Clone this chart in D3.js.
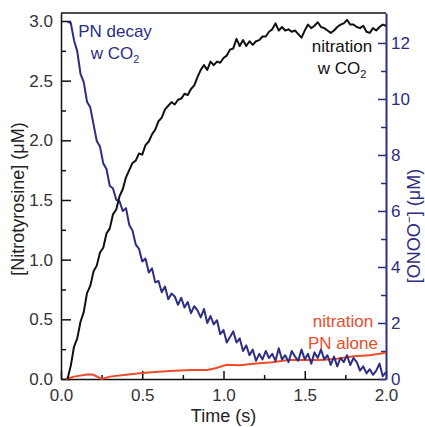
<!DOCTYPE html>
<html>
<head>
<meta charset="utf-8">
<script src="https://cdn.jsdelivr.net/npm/d3@7"></script>
<style>
  body { margin: 0; background: #fff; }
  svg { font-family: "Liberation Sans", Arial, sans-serif; }
</style>
</head>
<body>
<svg width="425" height="427"></svg>
<script>
// time points (s) shared by the two noisy traces
const times = [
  0.04, 0.06, 0.08, 0.10, 0.12, 0.14, 0.16, 0.18, 0.20, 0.22,
  0.24, 0.26, 0.28, 0.30, 0.32, 0.34, 0.36, 0.38, 0.40, 0.42,
  0.44, 0.46, 0.48, 0.50, 0.52, 0.54, 0.56, 0.58, 0.60, 0.62,
  0.64, 0.66, 0.68, 0.70, 0.72, 0.74, 0.76, 0.78, 0.80, 0.82,
  0.84, 0.86, 0.88, 0.90, 0.92, 0.94, 0.96, 0.98, 1.00, 1.02,
  1.04, 1.06, 1.08, 1.10, 1.12, 1.14, 1.16, 1.18, 1.20, 1.22,
  1.24, 1.26, 1.28, 1.30, 1.32, 1.34, 1.36, 1.38, 1.40, 1.42,
  1.44, 1.46, 1.48, 1.50, 1.52, 1.54, 1.56, 1.58, 1.60, 1.62,
  1.64, 1.66, 1.68, 1.70, 1.72, 1.74, 1.76, 1.78, 1.80, 1.82,
  1.84, 1.86, 1.88, 1.90, 1.92, 1.94, 1.96, 1.98, 2.00
];

// [Nitrotyrosine] with CO2 (uM, left axis)
const nitrationCO2 = [
  0.00, 0.11, 0.27, 0.34, 0.48, 0.56, 0.72, 0.78, 0.90, 0.95,
  1.06, 1.10, 1.22, 1.26, 1.38, 1.42, 1.53, 1.59, 1.69, 1.75,
  1.81, 1.83, 1.89, 1.88, 1.96, 1.99, 2.05, 2.09, 2.16, 2.19,
  2.26, 2.29, 2.32, 2.30, 2.34, 2.35, 2.39, 2.38, 2.43, 2.46,
  2.53, 2.59, 2.63, 2.59, 2.66, 2.63, 2.66, 2.65, 2.69, 2.71,
  2.76, 2.77, 2.85, 2.79, 2.84, 2.79, 2.83, 2.80, 2.83, 2.84,
  2.87, 2.87, 2.91, 2.93, 2.98, 2.92, 2.95, 2.92, 2.93, 2.91,
  2.92, 2.89, 2.86, 2.92, 2.97, 2.94, 2.96, 2.99, 2.95, 2.94,
  2.92, 2.90, 2.92, 2.95, 2.97, 2.98, 3.01, 2.97, 2.97, 2.95,
  2.94, 2.96, 2.91, 2.90, 2.94, 2.92, 2.95, 2.97, 2.96
];

// [ONOO-] decay with CO2 (uM, right axis)
const pnDecayCO2 = [
  12.75, 12.72, 12.10, 11.70, 10.90, 10.60, 9.90, 9.70, 9.10, 8.50,
  8.30, 7.70, 7.50, 6.90, 6.80, 6.40, 6.35, 6.00, 6.10, 5.50,
  5.30, 4.80, 4.65, 4.20, 4.30, 3.80, 3.95, 3.45, 3.50, 3.10,
  3.30, 2.85, 3.05, 2.95, 2.65, 2.90, 2.55, 2.75, 2.35, 2.60,
  2.45, 2.20, 2.50, 2.00, 2.25, 1.95, 2.10, 1.60, 1.75, 1.30,
  1.50, 1.70, 1.30, 1.45, 1.00, 1.20, 0.85, 1.05, 0.65, 0.90,
  0.70, 1.00, 0.75, 0.90, 0.65, 1.10, 0.70, 0.85, 0.60, 1.00,
  0.80, 0.65, 1.05, 0.70, 0.90, 0.55, 0.95, 0.75, 1.05, 0.70,
  0.85, 0.50, 0.80, 0.45, 0.75, 0.60, 0.85, 0.50, 0.75, 0.60,
  0.30, 0.45, 0.20, 0.35, 0.15, 0.30, 0.55, 0.10, 0.25
];

// [Nitrotyrosine] from peroxynitrite alone (uM, left axis)
const aloneTimes = [0.03, 0.08, 0.17, 0.20, 0.25, 0.30, 0.40, 0.50, 0.60, 0.70,
  0.80, 0.90, 0.95, 1.02, 1.10, 1.20, 1.30, 1.40, 1.50, 1.60, 1.70, 1.80, 1.90, 2.00];
const nitrationAlone = [0.00, 0.02, 0.04, 0.035, 0.00, 0.02, 0.035, 0.05, 0.06, 0.07,
  0.075, 0.075, 0.09, 0.12, 0.115, 0.13, 0.14, 0.16, 0.16, 0.16, 0.17, 0.19, 0.20, 0.22];

const xTicks = [0, 0.5, 1, 1.5, 2];
const xMinor = [0.25, 0.75, 1.25, 1.75];
const leftTicks = [0, 0.5, 1, 1.5, 2, 2.5, 3];
const leftMinor = [0.25, 0.75, 1.25, 1.75, 2.25, 2.75];
const rightTicks = [0, 2, 4, 6, 8, 10, 12];
const rightMinor = [1, 3, 5, 7, 9, 11];

const navy = '#2d2d84';
const red = '#ee4a2c';
const font = '"Liberation Sans", Arial, sans-serif';

const svg = d3.select('svg');
const width = +svg.attr('width');
const height = +svg.attr('height');
const margin = { top: 13, right: 39, bottom: 48, left: 61 };
const innerWidth = width - margin.left - margin.right;
const innerHeight = height - margin.top - margin.bottom;

const xScale = d3.scaleLinear().domain([0, 2]).range([0, innerWidth]);
const yLeft = d3.scaleLinear().domain([0, 3.067]).range([innerHeight, 0]);
const yRight = d3.scaleLinear().domain([0, 13.07]).range([innerHeight, 0]);

const g = svg.append('g')
  .attr('transform', `translate(${margin.left},${margin.top})`);

// top frame line
g.append('line')
  .attr('x1', 0).attr('x2', innerWidth)
  .attr('y1', 0).attr('y2', 0)
  .attr('stroke', '#111').attr('stroke-width', 1.5);

// minor ticks (no labels)
const minor = (axis, transform, color) => g.append('g')
  .attr('transform', transform)
  .call(axis)
  .call(a => a.select('.domain').remove())
  .call(a => a.selectAll('.tick text').remove())
  .call(a => a.selectAll('.tick line').attr('stroke', color).attr('stroke-width', 1.5));

minor(d3.axisBottom(xScale).tickValues(xMinor).tickSize(-4), `translate(0,${innerHeight})`, '#111');
minor(d3.axisLeft(yLeft).tickValues(leftMinor).tickSize(-5), null, '#111');
minor(d3.axisRight(yRight).tickValues(rightMinor).tickSize(-5), `translate(${innerWidth},0)`, navy);

// x axis
const xAxisG = g.append('g').attr('transform', `translate(0,${innerHeight})`)
  .call(d3.axisBottom(xScale).tickValues(xTicks).tickSize(-8).tickSizeOuter(0)
    .tickPadding(10).tickFormat(d3.format('.1f')));

// left axis
const yAxisG = g.append('g')
  .call(d3.axisLeft(yLeft).tickValues(leftTicks).tickSize(-10).tickSizeOuter(0)
    .tickPadding(8).tickFormat(d3.format('.1f')));

// right axis
const rAxisG = g.append('g').attr('transform', `translate(${innerWidth},0)`)
  .call(d3.axisRight(yRight).tickValues(rightTicks).tickSize(-8).tickSizeOuter(0)
    .tickPadding(5));

[xAxisG, yAxisG, rAxisG].forEach(a => {
  a.attr('font-family', font).attr('font-size', 17);
});
[xAxisG, yAxisG].forEach(a => {
  a.select('.domain').attr('stroke', '#111').attr('stroke-width', 1.5);
  a.selectAll('.tick line').attr('stroke', '#111').attr('stroke-width', 1.5);
  a.selectAll('.tick text').attr('fill', '#333');
});
rAxisG.select('.domain').attr('stroke', navy).attr('stroke-width', 2);
rAxisG.selectAll('.tick line').attr('stroke', navy).attr('stroke-width', 1.5);
rAxisG.selectAll('.tick text').attr('fill', navy);

// traces
const line = (ys, xs, yScale) => d3.line()
  .x((d, i) => xScale(xs[i]))
  .y(d => yScale(d))(ys);

g.append('path')
  .attr('d', line(nitrationAlone, aloneTimes, yLeft))
  .attr('fill', 'none').attr('stroke', red).attr('stroke-width', 2);

g.append('path')
  .attr('d', line(pnDecayCO2, times, yRight))
  .attr('fill', 'none').attr('stroke', navy).attr('stroke-width', 2)
  .attr('stroke-linejoin', 'round');

g.append('path')
  .attr('d', line(nitrationCO2, times, yLeft))
  .attr('fill', 'none').attr('stroke', '#111').attr('stroke-width', 2)
  .attr('stroke-linejoin', 'round');

// labels for the traces
const label = (x, y, color, first, second, sub) => {
  const t = g.append('text')
    .attr('text-anchor', 'middle')
    .attr('font-size', 17)
    .attr('fill', color);
  t.append('tspan').attr('x', x).attr('y', y).text(first);
  t.append('tspan').attr('x', x).attr('y', y + 22).text(second);
  if (sub) {
    t.append('tspan').attr('font-size', 11).attr('dy', 4).text(sub);
  }
};
label(115 - margin.left, 37 - margin.top, navy, 'PN decay', 'w CO', '2');
label(342 - margin.left, 52 - margin.top, '#111', 'nitration', 'w CO', '2');
label(343 - margin.left, 327 - margin.top, red, 'nitration', 'PN alone', null);

// axis titles
svg.append('text')
  .attr('x', margin.left + innerWidth / 2)
  .attr('y', 422)
  .attr('text-anchor', 'middle')
  .attr('font-size', 18)
  .attr('fill', '#222')
  .text('Time (s)');

svg.append('text')
  .attr('transform', 'translate(24,199) rotate(-90)')
  .attr('text-anchor', 'middle')
  .attr('font-size', 18)
  .attr('fill', '#222')
  .text('[Nitrotyrosine] (μM)');

const rt = svg.append('text')
  .attr('transform', 'translate(420,226) rotate(-90)')
  .attr('text-anchor', 'middle')
  .attr('font-size', 18)
  .attr('fill', navy);
rt.append('tspan').text('[ONOO');
rt.append('tspan').attr('font-size', 12).attr('dy', -7).text('−');
rt.append('tspan').attr('dy', 7).text('] (μM)');
</script>
</body>
</html>
